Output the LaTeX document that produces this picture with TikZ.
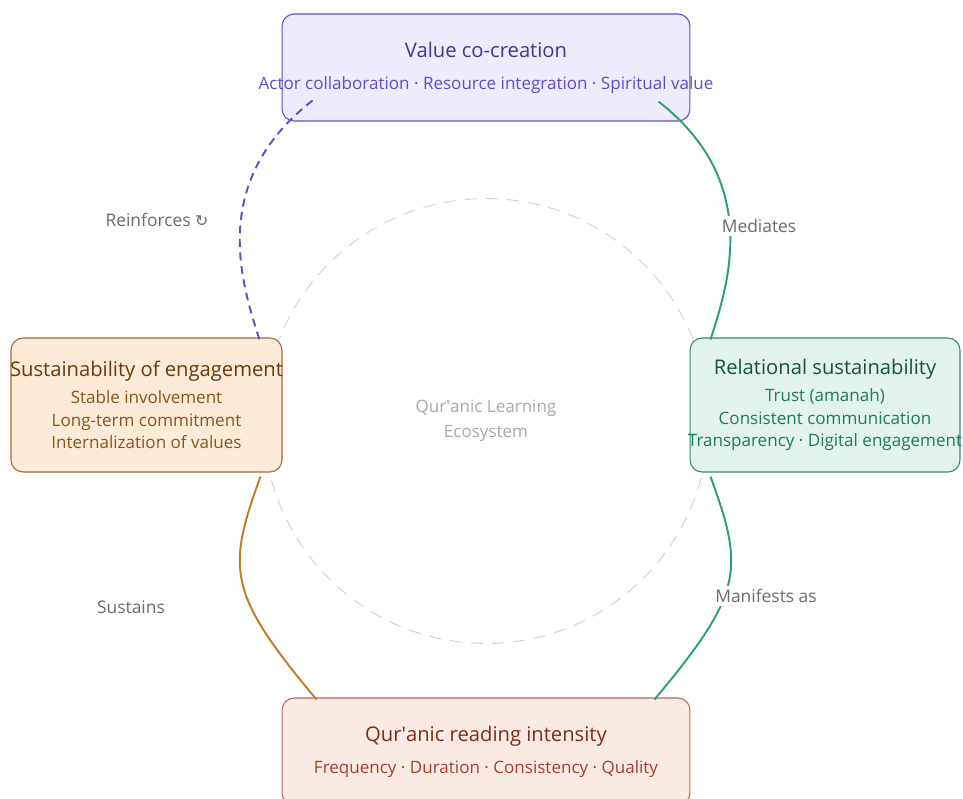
\documentclass[tikz,border=0pt]{standalone}
\usepackage{fontspec}
\setmainfont{Open Sans}
\newfontfamily\arrowglyph{DejaVu Sans}
\usetikzlibrary{positioning,calc}
\definecolor{Ink}{HTML}{6B6B6B}
\definecolor{Ring}{HTML}{CFCFCF}
\definecolor{Hub}{HTML}{A8A8A8}
\definecolor{Violet}{HTML}{5B50C4}
\definecolor{VioletDeep}{HTML}{3F378F}
\definecolor{VioletSoft}{HTML}{EDEBFC}
\definecolor{Clay}{HTML}{A06A30}
\definecolor{ClayText}{HTML}{8A5516}
\definecolor{ClayDeep}{HTML}{6A3A08}
\definecolor{ClaySoft}{HTML}{FBEBD8}
\definecolor{Ochre}{HTML}{C27C1E}
\definecolor{Jade}{HTML}{2F8C6B}
\definecolor{JadeText}{HTML}{1F7A5C}
\definecolor{JadeDeep}{HTML}{14533F}
\definecolor{JadeSoft}{HTML}{E1F3EC}
\definecolor{JadeLine}{HTML}{2E9E78}
\definecolor{Brick}{HTML}{B46A58}
\definecolor{BrickText}{HTML}{A3402A}
\definecolor{BrickDeep}{HTML}{7B2E14}
\definecolor{BrickSoft}{HTML}{FAEAE4}
\newcommand\cardtitle{\fontsize{11.5}{14}\selectfont}
% lines wider than their card run over its edges
\newcommand\spill[1]{\makebox[0pt]{#1}}
\tikzset{
  card/.style={line width=.6pt,rounded corners=.24cm,align=center,inner xsep=0pt,
    font=\fontsize{9.7}{12.8}\selectfont},
  vccard/.style={card,draw=Violet,fill=VioletSoft,text=Violet,minimum width=8.16cm,minimum height=2.14cm},
  soecard/.style={card,draw=Clay,fill=ClaySoft,text=ClayText,minimum width=5.42cm,minimum height=2.68cm},
  rscard/.style={card,draw=Jade,fill=JadeSoft,text=JadeText,minimum width=5.4cm,minimum height=2.68cm},
  qricard/.style={card,draw=Brick,fill=BrickSoft,text=BrickText,minimum width=8.16cm,minimum height=2.14cm},
  ring/.style={circle,draw=Ring,line width=.5pt,dash pattern=on 7pt off 5pt,minimum size=8.9cm,
    align=center,text=Hub,font=\fontsize{9.7}{14.2}\selectfont},
  link/.style={line width=1.1pt},
  tag/.style={text=Ink,fill=white,inner sep=2pt,font=\fontsize{9.9}{12}\selectfont}
}

\begin{document}
\begin{tikzpicture}[x=.02cm,y=.02cm]
  \useasboundingbox (0,0) rectangle (963,-798);
  % ecosystem ring in the middle
  \node[ring] (eco) at (486,-421) {Qur\textquotesingle anic Learning\\Ecosystem};

  % the four constructs
  \node[vccard] (vc) at (486,-67.5)
    {{\color{VioletDeep}\cardtitle Value co-creation}\\[5.4pt]
     \spill{Actor collaboration · Resource integration · Spiritual value}};
  \node[soecard] (soe) at (146.5,-405)
    {\spill{\color{ClayDeep}\cardtitle Sustainability of engagement}\\[2.5pt]
     Stable involvement\\Long-term commitment\\Internalization of values};
  \node[rscard] (rs) at (825,-405)
    {{\color{JadeDeep}\cardtitle Relational sustainability}\\[2.5pt]
     Trust (amanah)\\Consistent communication\\\spill{Transparency · Digital engagement}};
  \node[qricard] (qri) at (486,-751.5)
    {{\color{BrickDeep}\cardtitle Qur\textquotesingle anic reading intensity}\\[5.4pt]
     Frequency · Duration · Consistency · Quality};

  % links around the ring
  \draw[link,draw=Violet,dash pattern=on 4.5pt off 3.2pt]
    ($(vc.south west)+(31,21)$) to[out=218,in=108,out looseness=1.36,in looseness=.66]
    ($(soe.north east)+(-23,-2)$);
  \draw[link,draw=JadeLine]
    ($(vc.south east)+(-32,20)$) to[out=-38,in=72,out looseness=1.36,in looseness=.66]
    ($(rs.north west)+(21,-2)$);
  \draw[link,draw=JadeLine]
    ($(rs.south west)+(21,-4)$) to[out=-70,in=50,out looseness=1.1,in looseness=1.55]
    ($(qri.north east)+(-36,-2)$);
  \draw[link,draw=Ochre]
    ($(soe.south east)+(-22,-4)$) to[out=250,in=130,out looseness=1.1,in looseness=1.55]
    ($(qri.north west)+(35,-2)$);

  \node[tag] (reinf) at (157,-220) {Reinforces {\arrowglyph\fontsize{9}{10}\selectfont ↻}};
  \node[tag] (med) at (759,-226) {Mediates};
  \node[tag] (man) at (766,-596) {Manifests as};
  \node[tag] (sus) at (131,-607) {Sustains};
\end{tikzpicture}
\end{document}
